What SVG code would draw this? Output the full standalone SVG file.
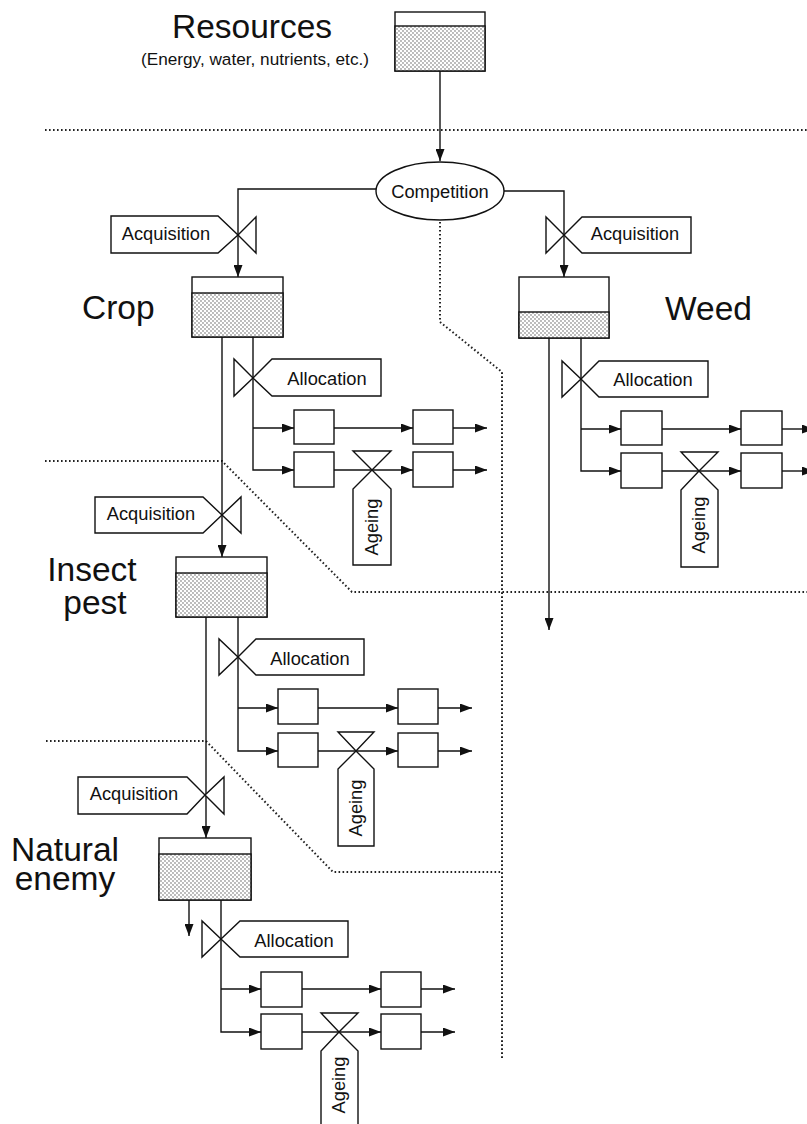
<svg xmlns="http://www.w3.org/2000/svg" width="807" height="1124" viewBox="0 0 807 1124">
<defs>
<pattern id="dots" width="4" height="4" patternUnits="userSpaceOnUse">
<rect width="4" height="4" fill="#fff"/>
<circle cx="1" cy="1" r="0.65" fill="#444"/>
<circle cx="3" cy="3" r="0.65" fill="#444"/>
</pattern>
<marker id="arr" viewBox="0 0 12 9" refX="12" refY="4.5" markerWidth="12" markerHeight="9" markerUnits="userSpaceOnUse" orient="auto">
<path d="M0,0 L12,4.5 L0,9 z" fill="#111"/>
</marker>
<style>
.ar{fill:none;stroke:#111;stroke-width:1.4;marker-end:url(#arr)}
.dot{fill:none;stroke:#222;stroke-width:2;stroke-dasharray:1.6 2.4}
.sh{fill:#fff;stroke:#111;stroke-width:1.4;stroke-linejoin:miter}
.fill{fill:url(#dots);stroke:#111;stroke-width:1.4}
.big{font-family:"Liberation Sans",Arial,Helvetica,sans-serif;font-size:33.5px;fill:#111}
.lbl{font-family:"Liberation Sans",Arial,Helvetica,sans-serif;font-size:18.3px;fill:#111;text-anchor:middle}
.sub{font-family:"Liberation Sans",Arial,Helvetica,sans-serif;font-size:17.2px;fill:#111;text-anchor:middle}
</style>
</defs>
<rect width="807" height="1124" fill="#fff"/>

<g id="boundaries">
<path class="dot" d="M45,130 H807"/>
<path class="dot" d="M440,222 V322 L502,372 V1058"/>
<path class="dot" d="M45,461 H222 L352,592 H807"/>
<path class="dot" d="M46,741 H206 L333,872 H502"/>
</g>

<g id="connectors">
<path class="ar" d="M440,71 V161"/>
<path class="ar" d="M376,189 H238 V277"/>
<path class="ar" d="M504,191 H564 V277"/>
<path class="ar" d="M253,337 V470 H294"/>
<path class="ar" d="M253,428 H294"/>
<path class="ar" d="M334,428 H413"/>
<path class="ar" d="M334,470 H413"/>
<path class="ar" d="M453,428 H487"/>
<path class="ar" d="M453,470 H487"/>
<path class="ar" d="M222,337 V557"/>
<path class="ar" d="M581,338 V471 H621"/>
<path class="ar" d="M581,429 H621"/>
<path class="ar" d="M662,429 H741"/>
<path class="ar" d="M662,471 H741"/>
<path class="ar" d="M782,429 H814"/>
<path class="ar" d="M782,471 H814"/>
<path class="ar" d="M549,338 V630"/>
<path class="ar" d="M238,617 V751 H278"/>
<path class="ar" d="M238,708 H278"/>
<path class="ar" d="M318,708 H398"/>
<path class="ar" d="M318,751 H398"/>
<path class="ar" d="M438,708 H472"/>
<path class="ar" d="M438,751 H472"/>
<path class="ar" d="M206,617 V838"/>
<path class="ar" d="M189,900 V936"/>
<path class="ar" d="M221,900 V1032 H261"/>
<path class="ar" d="M221,989 H261"/>
<path class="ar" d="M302,989 H381"/>
<path class="ar" d="M302,1032 H381"/>
<path class="ar" d="M421,989 H455"/>
<path class="ar" d="M421,1032 H455"/>
</g>

<g id="resources">
<rect class="sh" x="395" y="12" width="90" height="59"/>
<rect class="fill" x="395" y="26" width="90" height="45"/>
<text class="big" x="252" y="38" text-anchor="middle">Resources</text>
<text class="sub" x="255" y="65">(Energy, water, nutrients, etc.)</text>
</g>

<g id="competition">
<ellipse class="sh" cx="440" cy="191" rx="64" ry="29"/>
<text class="lbl" x="440" y="198">Competition</text>
</g>

<g id="crop">
<rect class="sh" x="192" y="277" width="91" height="60"/>
<rect class="fill" x="192" y="293" width="91" height="44"/>
<text class="big" x="82" y="319">Crop</text>
</g>
<g id="crop-acquisition">
<polygon class="sh" points="111,216 218,216 238,235 218,253 111,253"/>
<polygon class="sh" points="238,235 256,217 256,253"/>
<text class="lbl" x="166" y="240">Acquisition</text>
</g>
<g id="crop-allocation">
<polygon class="sh" points="253,378 234,359 234,396"/>
<polygon class="sh" points="253,378 272,359 381,359 381,396 272,396"/>
<text class="lbl" x="327" y="385">Allocation</text>
</g>
<g id="crop-organs">
<rect class="sh" x="294" y="410" width="40" height="34"/>
<rect class="sh" x="294" y="452" width="40" height="35"/>
<rect class="sh" x="413" y="410" width="40" height="34"/>
<rect class="sh" x="413" y="452" width="40" height="35"/>
</g>
<g id="crop-ageing">
<polygon class="sh" points="353,451 391,451 372,470"/>
<polygon class="sh" points="372,470 391,489 391,565 353,565 353,489"/>
<text class="lbl" transform="translate(378,527) rotate(-90)">Ageing</text>
</g>

<g id="weed">
<rect class="sh" x="519" y="277" width="90" height="61"/>
<rect class="fill" x="519" y="312" width="90" height="26"/>
<text class="big" x="665" y="320">Weed</text>
</g>
<g id="weed-acquisition">
<polygon class="sh" points="564,235 546,217 546,253"/>
<polygon class="sh" points="564,235 582,217 691,217 691,253 582,253"/>
<text class="lbl" x="635" y="240">Acquisition</text>
</g>
<g id="weed-allocation">
<polygon class="sh" points="581,379 562,361 562,397"/>
<polygon class="sh" points="581,379 599,361 708,361 708,397 599,397"/>
<text class="lbl" x="653" y="386">Allocation</text>
</g>
<g id="weed-organs">
<rect class="sh" x="621" y="411" width="41" height="34"/>
<rect class="sh" x="621" y="453" width="41" height="35"/>
<rect class="sh" x="741" y="411" width="41" height="34"/>
<rect class="sh" x="741" y="453" width="41" height="35"/>
</g>
<g id="weed-ageing">
<polygon class="sh" points="681,452 718,452 699,471"/>
<polygon class="sh" points="699,471 718,490 718,567 681,567 681,490"/>
<text class="lbl" transform="translate(705,525) rotate(-90)">Ageing</text>
</g>

<g id="insect">
<rect class="sh" x="176" y="557" width="91" height="60"/>
<rect class="fill" x="176" y="573" width="91" height="44"/>
<text class="big" x="92" y="581" text-anchor="middle">Insect</text>
<text class="big" x="95" y="614" text-anchor="middle">pest</text>
</g>
<g id="insect-acquisition">
<polygon class="sh" points="95,497 203,497 222,515 203,533 95,533"/>
<polygon class="sh" points="222,515 241,497 241,533"/>
<text class="lbl" x="151" y="520">Acquisition</text>
</g>
<g id="insect-allocation">
<polygon class="sh" points="238,657 219,639 219,675"/>
<polygon class="sh" points="238,657 256,639 364,639 364,675 256,675"/>
<text class="lbl" x="310" y="665">Allocation</text>
</g>
<g id="insect-organs">
<rect class="sh" x="278" y="689" width="40" height="35"/>
<rect class="sh" x="278" y="733" width="40" height="34"/>
<rect class="sh" x="398" y="689" width="40" height="35"/>
<rect class="sh" x="398" y="733" width="40" height="34"/>
</g>
<g id="insect-ageing">
<polygon class="sh" points="338,732 374,732 356,751"/>
<polygon class="sh" points="356,751 374,769 374,846 338,846 338,769"/>
<text class="lbl" transform="translate(362,808) rotate(-90)">Ageing</text>
</g>

<g id="natural-enemy">
<rect class="sh" x="159" y="838" width="92" height="62"/>
<rect class="fill" x="159" y="854" width="92" height="46"/>
<text class="big" x="65" y="861" text-anchor="middle">Natural</text>
<text class="big" x="65" y="890" text-anchor="middle">enemy</text>
</g>
<g id="ne-acquisition">
<polygon class="sh" points="78,777 187,777 205,795 187,814 78,814"/>
<polygon class="sh" points="205,795 224,777 224,814"/>
<text class="lbl" x="134" y="800">Acquisition</text>
</g>
<g id="ne-allocation">
<polygon class="sh" points="221,939 202,921 202,957"/>
<polygon class="sh" points="221,939 240,921 348,921 348,957 240,957"/>
<text class="lbl" x="294" y="947">Allocation</text>
</g>
<g id="ne-organs">
<rect class="sh" x="261" y="972" width="41" height="35"/>
<rect class="sh" x="261" y="1014" width="41" height="35"/>
<rect class="sh" x="381" y="972" width="40" height="35"/>
<rect class="sh" x="381" y="1014" width="40" height="35"/>
</g>
<g id="ne-ageing">
<polygon class="sh" points="321,1013 358,1013 339,1032"/>
<polygon class="sh" points="339,1032 358,1051 358,1128 321,1128 321,1051"/>
<text class="lbl" transform="translate(345,1085) rotate(-90)">Ageing</text>
</g>
</svg>
